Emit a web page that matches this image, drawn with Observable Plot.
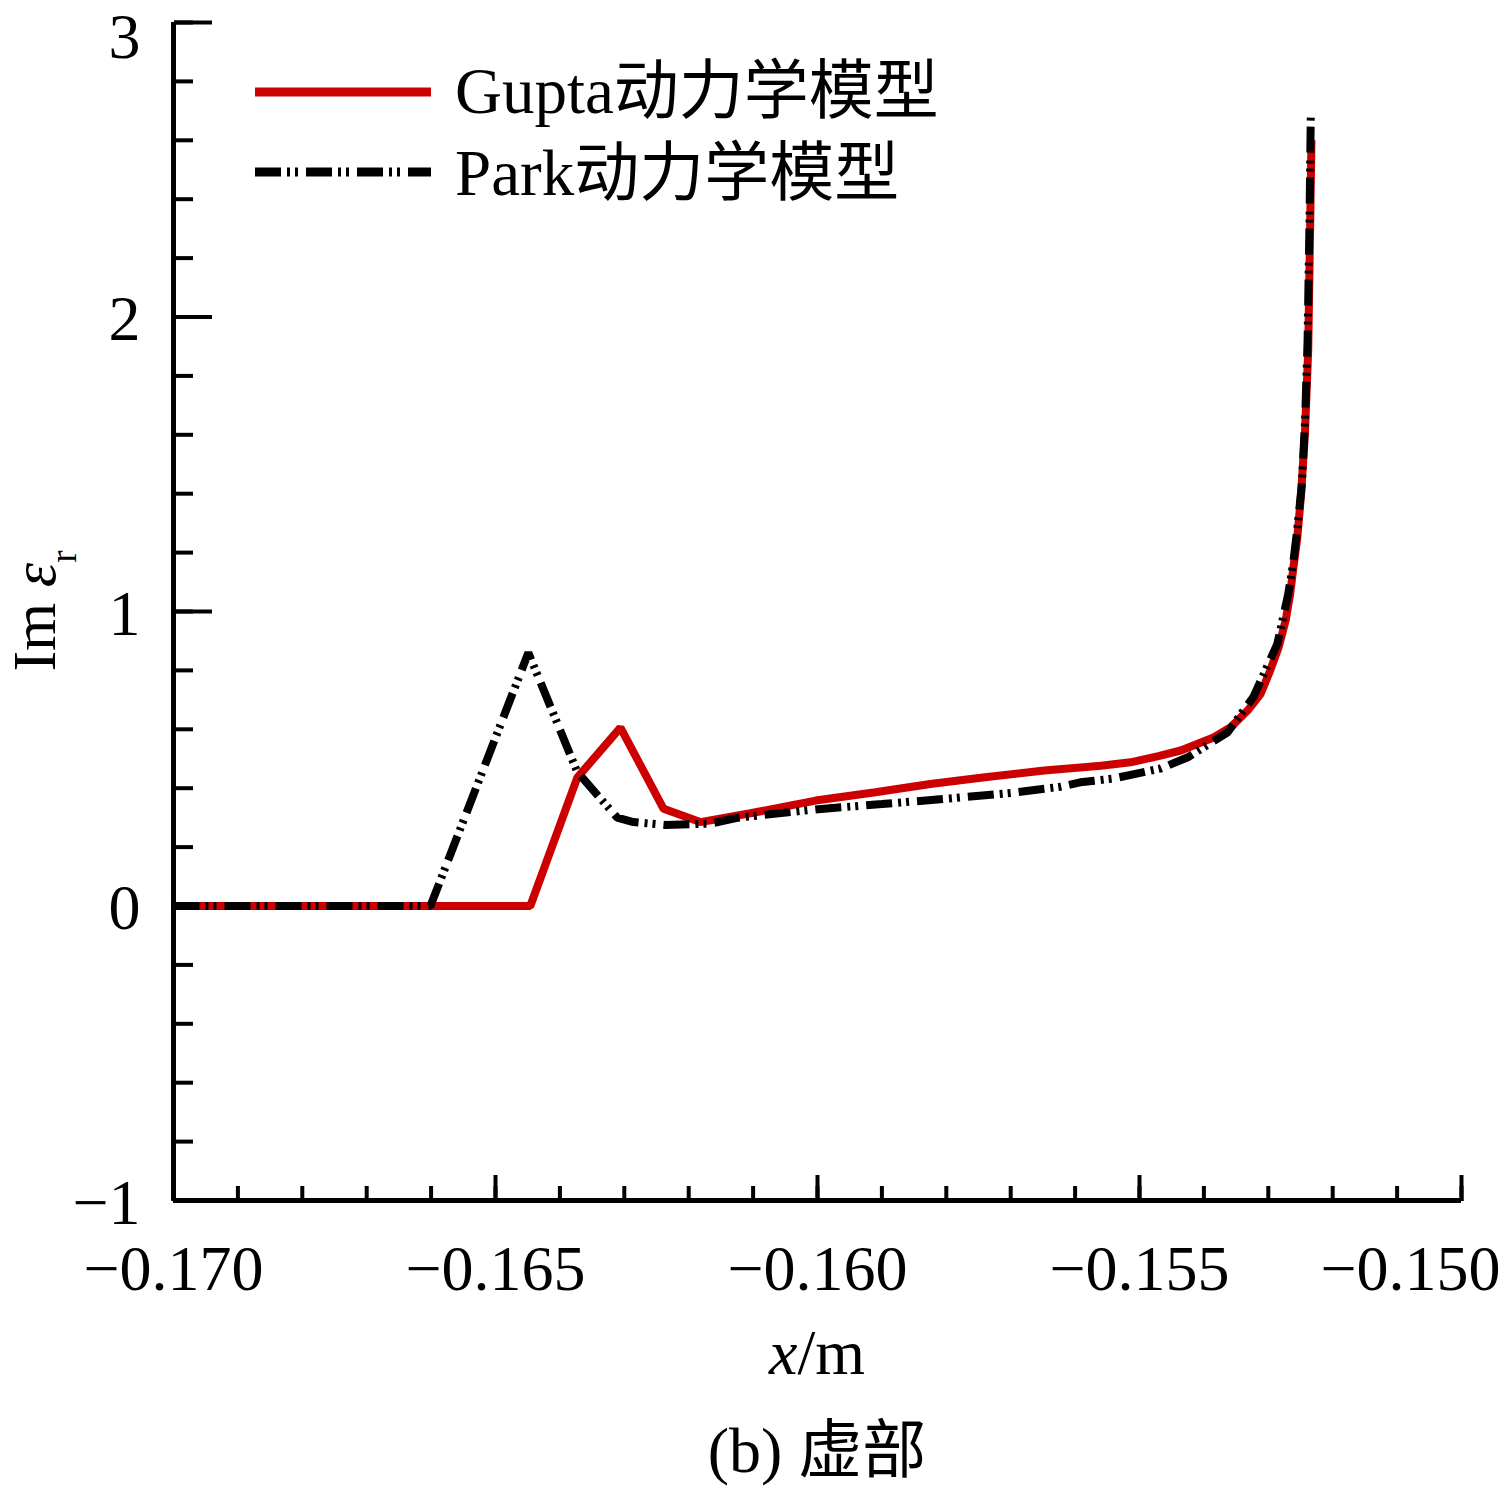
<!DOCTYPE html>
<html>
<head>
<meta charset="utf-8">
<script src="https://cdn.jsdelivr.net/npm/d3@7"></script>
<script src="https://cdn.jsdelivr.net/npm/@observablehq/plot@0.6"></script>
<style>
  body { margin: 0; background: #fff; }
  #wrap { position: relative; width: 1505px; height: 1489px; background: #fff;
          font-family: "Liberation Serif", "Times New Roman", "Noto Sans CJK SC", serif; color: #000; }
  #chart svg { display: block; }
  .below { position: absolute; left: 173px; width: 1288px; text-align: center;
           font-size: 64px; line-height: 84px; white-space: nowrap; }
  #legend { position: absolute; left: 0; top: 0; overflow: visible; }
</style>
</head>
<body>
<div id="wrap">
  <div id="chart"></div>
  <svg id="legend" width="1000" height="230"></svg>
  <div class="below" style="top:1311px"><i>x</i>/m</div>
  <div class="below" style="top:1409px">(b) 虚部</div>
</div>
<script>
// ---- data ----
const guptaX = [-0.1700, -0.1680, -0.1660, -0.16446, -0.16373, -0.16306, -0.16239, -0.16182, -0.16104, -0.16003,
                -0.15910, -0.15825, -0.15740, -0.15648, -0.15560, -0.15514, -0.15469, -0.15436, -0.15385, -0.15359,
                -0.15332, -0.15312, -0.15297, -0.15284, -0.15273, -0.15266, -0.15261, -0.15255, -0.15249, -0.15243,
                -0.15238, -0.15235, -0.15233];
const guptaY = [0, 0, 0, 0, 0.436, 0.606, 0.330, 0.285, 0.315, 0.358,
                0.386, 0.414, 0.437, 0.460, 0.476, 0.488, 0.510, 0.528, 0.572, 0.606,
                0.664, 0.720, 0.800, 0.878, 0.970, 1.060, 1.150, 1.250, 1.400, 1.610,
                1.890, 2.310, 2.600];

const parkX = [-0.1700, -0.1680, -0.16601, -0.16449, -0.16373, -0.16311, -0.16286, -0.16236, -0.16166, -0.16123,
               -0.16003, -0.15900, -0.15795, -0.15700, -0.15623, -0.15592, -0.15540, -0.15467, -0.15425, -0.15385,
               -0.15363, -0.15323, -0.15286, -0.15269, -0.15261, -0.15255, -0.15248, -0.15243, -0.15239, -0.15236,
               -0.15234];
const parkY = [0, 0, 0, 0.860, 0.455, 0.300, 0.285, 0.275, 0.280, 0.300,
               0.328, 0.346, 0.365, 0.384, 0.405, 0.420, 0.433, 0.467, 0.505, 0.560,
               0.590, 0.710, 0.890, 1.060, 1.170, 1.280, 1.430, 1.640, 1.920, 2.330,
               2.690];

const seriesNames = ["Gupta动力学模型", "Park动力学模型"];
const seriesColors = ["#cc0000", "#000000"];
const parkDash = "26,6,3,5,3,8";

const xDomain = [-0.170, -0.150];
const yDomain = [-1, 3];
const xMajorTicks = [-0.170, -0.165, -0.160, -0.155, -0.150];
const xMinorTicks = [-0.170, -0.169, -0.168, -0.167, -0.166, -0.165, -0.164, -0.163, -0.162, -0.161, -0.160,
                     -0.159, -0.158, -0.157, -0.156, -0.155, -0.154, -0.153, -0.152, -0.151, -0.150];
const yMajorTicks = [-1, 0, 1, 2, 3];
const yMinorTicks = [-1, -0.8, -0.6, -0.4, -0.2, 0, 0.2, 0.4, 0.6, 0.8, 1, 1.2, 1.4, 1.6, 1.8, 2,
                     2.2, 2.4, 2.6, 2.8, 3];

// ---- build ----
const gupta = guptaX.map((x, i) => ({x, y: guptaY[i]}));
const park = parkX.map((x, i) => ({x, y: parkY[i]}));
const FONT = "Liberation Serif, Times New Roman, Noto Sans CJK SC, serif";
const xLast = xMajorTicks[xMajorTicks.length - 1];
const yLast = yMajorTicks[yMajorTicks.length - 1];

const plot = Plot.plot({
  width: 1505,
  height: 1310,
  marginLeft: 173,
  marginRight: 44,
  marginTop: 22,
  marginBottom: 110,
  x: {domain: xDomain},
  y: {domain: yDomain},
  style: {fontFamily: FONT, fontSize: "64px", color: "#000", background: "#fff", overflow: "visible"},
  marks: [
    // inward ticks
    Plot.axisX(xMinorTicks, {anchor: "top", frameAnchor: "bottom", tickSize: 15, strokeWidth: 4, fill: "none"}),
    Plot.axisX(xMajorTicks, {anchor: "top", frameAnchor: "bottom", tickSize: 26, strokeWidth: 4, fill: "none"}),
    Plot.axisY(yMinorTicks, {anchor: "right", frameAnchor: "left", tickSize: 19, strokeWidth: 4, fill: "none"}),
    Plot.axisY(yMajorTicks, {anchor: "right", frameAnchor: "left", tickSize: 38, strokeWidth: 4, fill: "none"}),
    // tick labels (the last x label is pulled inward, as in the reference)
    Plot.axisX(xMajorTicks.filter(d => d !== xLast), {anchor: "bottom", tickSize: 0, tickPadding: 44,
                             tickFormat: d3.format(".3f"), label: null, fontSize: 64}),
    Plot.axisX([xLast], {anchor: "bottom", tickSize: 0, tickPadding: 44, dx: -51,
                             tickFormat: d3.format(".3f"), label: null, fontSize: 64}),
    Plot.axisY(yMajorTicks.filter(d => d !== yLast), {anchor: "left", tickSize: 0, tickPadding: 33, dy: 3,
                             tickFormat: d3.format("d"), label: null, fontSize: 64}),
    Plot.axisY([yLast], {anchor: "left", tickSize: 0, tickPadding: 33, dy: 15,
                             tickFormat: d3.format("d"), label: null, fontSize: 64}),
    // axis lines
    Plot.ruleX([xDomain[0]], {strokeWidth: 5}),
    Plot.ruleY([yDomain[0]], {strokeWidth: 5}),
    // series
    Plot.line(gupta, {x: "x", y: "y", stroke: seriesColors[0], strokeWidth: 8,
                      strokeLinecap: "butt", strokeLinejoin: "miter"}),
    Plot.line(park, {x: "x", y: "y", stroke: seriesColors[1], strokeWidth: 8, strokeDasharray: parkDash,
                     strokeLinecap: "butt", strokeLinejoin: "miter"})
  ]
});
document.getElementById("chart").appendChild(plot);

// y-axis title with italic epsilon and subscript r
const ys = plot.scale("y");
const yMid = (ys.apply(yDomain[0]) + ys.apply(yDomain[1])) / 2;
const yTitle = d3.select(plot).append("text")
  .attr("transform", `translate(55,${yMid}) rotate(-90)`)
  .attr("text-anchor", "middle")
  .attr("font-family", FONT)
  .attr("font-size", 62)
  .attr("fill", "#000");
yTitle.append("tspan").text("Im ");
yTitle.append("tspan").attr("font-style", "italic").text("ε");
yTitle.append("tspan").attr("font-size", 37).attr("dy", 21).text("r");

// legend
const leg = d3.select("#legend");
const rows = [
  {name: seriesNames[0], color: seriesColors[0], dash: null, ly: 92, ty: 113},
  {name: seriesNames[1], color: seriesColors[1], dash: parkDash, ly: 172, ty: 195}
];
rows.forEach(r => {
  leg.append("line").attr("x1", 255).attr("x2", 431).attr("y1", r.ly).attr("y2", r.ly)
    .attr("stroke", r.color).attr("stroke-width", 9)
    .attr("stroke-dasharray", r.dash);
  leg.append("text").attr("x", 455).attr("y", r.ty)
    .attr("font-family", FONT).attr("font-size", 65).attr("fill", "#000").text(r.name);
});
</script>
</body>
</html>
